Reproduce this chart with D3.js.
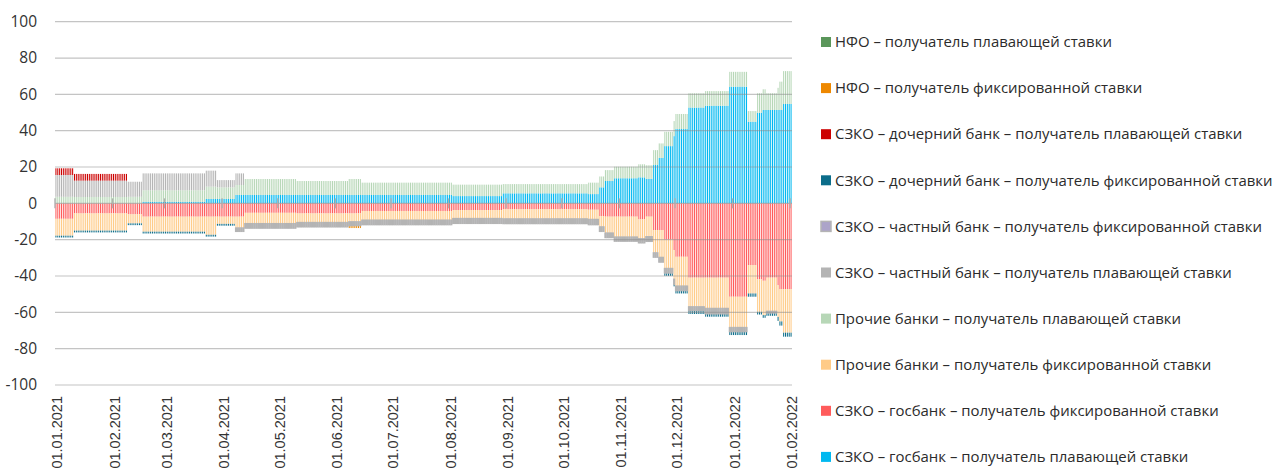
<!DOCTYPE html>
<html><head><meta charset="utf-8">
<script src="https://cdn.jsdelivr.net/npm/d3@7"></script>
<style>body{margin:0;background:#fff}svg{display:block}</style>
</head><body><svg id="chart" width="1274" height="473"></svg>
<script>
// ---- data: step segments (start date of each period) and values per series ----
const segmentStarts = ["2021-01-01","2021-01-11","2021-02-09","2021-02-17","2021-03-23","2021-03-29","2021-04-08","2021-04-13","2021-05-11","2021-06-08","2021-06-15","2021-08-03","2021-08-30","2021-10-15","2021-10-21","2021-10-24","2021-10-29","2021-11-11","2021-11-15","2021-11-19","2021-11-22","2021-11-25","2021-11-30","2021-12-01","2021-12-08","2021-12-17","2021-12-30","2022-01-09","2022-01-14","2022-01-17","2022-01-19","2022-01-25","2022-01-26","2022-01-28"];
const govFloat  = [0,0,0,0.8,2.4,2.4,4.6,4.6,4.6,4.6,4.6,4.0,5.5,5.1,8.8,12.3,13.8,14.3,13.5,21.1,25.0,31.5,37.0,40.9,52.7,53.7,64.2,44.9,49.9,51.4,51.4,51.4,51.4,54.7];
const govFix    = [-8.5,-5.5,-6,-7.3,-7.3,-7.3,-7.3,-5.2,-5.5,-5.5,-4.2,-3.7,-3.2,-3.5,-7.0,-7.3,-7.3,-8.8,-7.3,-14.7,-14.7,-20.0,-25.7,-29.4,-40.9,-40.9,-51.4,-34.0,-41.8,-42.6,-40.9,-45.0,-47.2,-47.2];
const otherFix  = [-9.3,-9.5,-5,-8.3,-10,-4,-6.2,-5.9,-5,-4.6,-5,-4.6,-5.3,-5.3,-5.9,-9,-11.2,-10.6,-11,-12.5,-15,-15.8,-16,-16.1,-16,-16.9,-16.9,-15.6,-17.9,-18.9,-18.5,-17.5,-17.8,-24];
const otherFloat= [3.6,3.5,3.6,6.4,6.8,6.4,5.5,8.8,7.7,8.8,6.8,6.3,5.1,6.3,6.0,6.0,6.4,7.2,7.5,8.2,8.0,7.9,8.3,8.3,7.9,8.1,8.2,5.9,10.7,11.4,9.2,12.2,15.6,18.1];
const privFloat = [12,9,8.3,9.3,8.8,4.0,6.4,0,0,0,0,0,0,0,0,0,0,0,0,0,0,0,0,0,0,0,0,0,0,0,0,0,0,0];
const privFix   = [0,0,0,0,0,0,-2,-2.6,-2.5,-2.2,-2.6,-2.8,-2.7,-3,-2.6,-2.6,-2.4,-2.4,-2.7,-2.5,-2.7,-2.6,-3,-2.6,-2.2,-3.1,-2.4,0,0,0,-1,0,0,0];
const dochFix   = [-1,-1,-1,-1,-1,-1,0,0,0,0,0,0,0,0,0,0,0,0,0,0,0,-1.5,-1,-1.5,-1.8,-1.5,-1.8,-1.8,-1.5,-1.5,-1.5,-2.2,-2.3,-2.2];
const dochFloat = [3.7,3.7,0,0,0,0,0,0,0,0,0,0,0,0,0,0,0,0,0,0,0,0,0,0,0,0,0,0,0,0,0,0,0,0];
const nfoFix    = [0,0,0,0,0,0,0,0,0,-1.3,0,0,0,0,0,0,0,0,0,0,0,0,0,0,0,0,0,0,0,0,0,0,0,0];
const nfoFloat  = [0,0,0,0,0,0,0,0,0,0,0,0,0,0,0,0,0,0,0,0,0,0,0,0,0,0,0,0,0,0,0,0,0,0];

const seriesKeys = ["govFloat","govFix","otherFix","otherFloat","privFloat","privFix","dochFix","dochFloat","nfoFix","nfoFloat"];
const seriesValues = {govFloat,govFix,otherFix,otherFloat,privFloat,privFix,dochFix,dochFloat,nfoFix,nfoFloat};
const seriesColors = {govFloat:"#00b8f0",govFix:"#ff5b5b",otherFix:"#ffcb88",otherFloat:"#b7d7b7",privFloat:"#b4b4b4",privFix:"#aca4c9",dochFix:"#0b6d8a",dochFloat:"#cc0000",nfoFix:"#ee8800",nfoFloat:"#5a965a"};
const legendKeys = ["nfoFloat","nfoFix","dochFloat","dochFix","privFix","privFloat","otherFloat","otherFix","govFix","govFloat"];
const legendLabels = ["НФО – получатель плавающей ставки","НФО – получатель фиксированной ставки","СЗКО – дочерний банк – получатель плавающей ставки","СЗКО – дочерний банк – получатель фиксированной ставки","СЗКО – частный банк – получатель фиксированной ставки","СЗКО – частный банк – получатель плавающей ставки","Прочие банки – получатель плавающей ставки","Прочие банки – получатель фиксированной ставки","СЗКО – госбанк – получатель фиксированной ставки","СЗКО – госбанк – получатель плавающей ставки"];
const yTicks = [-100,-80,-60,-40,-20,0,20,40,60,80,100];
const monthTicks = ["2021-01-01","2021-02-01","2021-03-01","2021-04-01","2021-05-01","2021-06-01","2021-07-01","2021-08-01","2021-09-01","2021-10-01","2021-11-01","2021-12-01","2022-01-01","2022-02-01"];

// ---- build daily table ----
const parse = d3.utcParse("%Y-%m-%d");
const fmt = d3.utcFormat("%d.%m.%Y");
const segDates = segmentStarts.map(parse);
const days = d3.utcDay.range(parse("2021-01-01"), d3.utcDay.offset(parse("2022-02-01"),1));
const table = days.map(d => {
  const i = d3.bisectRight(segDates, d) - 1;
  const row = {date: d};
  seriesKeys.forEach(k => row[k] = seriesValues[k][i]);
  return row;
});
const stacked = d3.stack().keys(seriesKeys).offset(d3.stackOffsetDiverging)(table);

// ---- scales ----
const svg = d3.select("#chart");
const x = d3.scaleBand().domain(days.map(d=>+d)).range([55, 792]).padding(0);
const y = d3.scaleLinear().domain([-100, 100]).range([385, 21.7]);
const step = x.step(), bw = step * 0.56, off = (step - bw) / 2;

// bars
const gBars = svg.append("g");
stacked.forEach(s => {
  const key = s.key;
  gBars.append("g")
    .attr("fill", seriesColors[key])
    .attr("stroke", key === "privFix" ? "#b4b4b4" : null)
    .attr("stroke-width", key === "privFix" ? 1.1 : null)
    .selectAll("rect")
    .data(s.filter(d => d[1] - d[0] !== 0))
    .join("rect")
    .attr("x", d => x(+d.data.date) + off)
    .attr("width", bw)
    .attr("y", d => y(Math.max(d[0], d[1])))
    .attr("height", d => Math.abs(y(d[0]) - y(d[1])));
});
gBars.selectAll("g").filter((d,i)=>seriesKeys[i]==="privFix").raise();

// gridlines
svg.append("g").selectAll("line").data(yTicks).join("line")
  .attr("x1", 55).attr("x2", 792)
  .attr("y1", d => y(d)).attr("y2", d => y(d))
  .attr("stroke", "#8a8a8a").attr("stroke-opacity", 0.5).attr("stroke-width", 1.2);

// y labels
svg.append("g").selectAll("text").data(yTicks).join("text")
  .attr("x", 37).attr("y", d => y(d)).attr("dy", "0.35em")
  .attr("text-anchor", "end")
  .attr("font-family", "'Open Sans', sans-serif").attr("font-size", 15.5).attr("fill", "#333")
  .text(d => d);

// month tick marks crossing the zero line
const y0 = y(0);
svg.append("g").selectAll("line").data(monthTicks).join("line")
  .attr("x1", d => x(+parse(d))).attr("x2", d => x(+parse(d)))
  .attr("y1", y0 - 5).attr("y2", y0 + 5)
  .attr("stroke", "#b0b0b0").attr("stroke-width", 1.4);

// x labels
svg.append("g").selectAll("text").data(monthTicks).join("text")
  .attr("transform", d => `translate(${x(+parse(d)) + 2},396) rotate(-90)`)
  .attr("dy", "0.35em").attr("text-anchor", "end")
  .attr("font-family", "'Liberation Sans', Arial, sans-serif").attr("font-size", 14.5).attr("fill", "#333")
  .text(d => fmt(parse(d)));

// legend
const lg = svg.append("g");
const rowY = i => 42 + i * 46.1;
legendKeys.forEach((k, i) => {
  lg.append("rect").attr("x", 821).attr("y", rowY(i) - 5).attr("width", 10).attr("height", 10)
    .attr("fill", seriesColors[k])
    .attr("stroke", k === "privFix" ? "#b4b4b4" : null).attr("stroke-width", k === "privFix" ? 1.5 : null);
});
const lt = lg.selectAll("text").data(legendLabels).join("text")
  .attr("x", 835).attr("y", (d,i) => rowY(i)).attr("dy", "0.35em")
  .attr("font-family", "'Open Sans', sans-serif").attr("font-size", 14).attr("fill", "#2b2b2b")
  .text(d => d);
const longest = lt.filter((d,i)=>i===3).node().getComputedTextLength();
lt.attr("font-size", 14 * 438 / longest);
</script></body></html>
